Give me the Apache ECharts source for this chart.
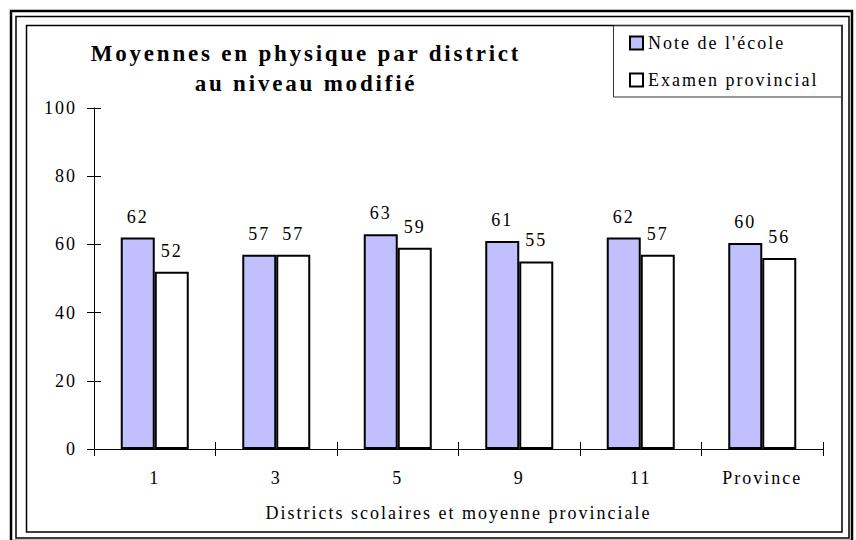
<!DOCTYPE html>
<html>
<head>
<meta charset="utf-8">
<script src="https://cdn.jsdelivr.net/npm/echarts@6.0.0/dist/echarts.min.js"></script>
<style>
    html, body { margin: 0; padding: 0; background: #fff; }
    #chart { width: 856px; height: 540px; }
    /* espacement des lettres comme dans l'original */
    #chart svg text { letter-spacing: 2px; }
    #chart svg text[style*="bold"] { letter-spacing: 2.8px; }
</style>
</head>
<body>
<div id="chart"></div>
<script>
// données
var districts = ['1', '3', '5', '9', '11', 'Province'];
var noteEcole = [62, 57, 63, 61, 62, 60.4];
var examenProvincial = [52, 57, 59, 55, 57, 56];
var yTicks = [0, 20, 40, 60, 80, 100];

var serif = '"Liberation Serif", "Times New Roman", serif';
var chartDom = document.getElementById('chart');
var myChart = echarts.init(chartDom, null, { renderer: 'svg' });

function roundLabel(p) {
    return Math.round(p.value);
}

var option = {
    animation: false,
    backgroundColor: '#fff',
    title: {
        text: 'Moyennes en physique par district\nau niveau modifié',
        left: 306,
        top: 38,
        padding: 0,
        textAlign: 'center',
        textStyle: {
            fontFamily: serif,
            fontSize: 23,
            fontWeight: 'bold',
            color: '#000',
            lineHeight: 30
        }
    },
    legend: {
        orient: 'vertical',
        left: 629,
        top: 34,
        padding: 0,
        itemWidth: 13,
        itemHeight: 13,
        itemGap: 19,
        icon: 'rect',
        itemStyle: { borderColor: '#000', borderWidth: 2 },
        textStyle: { fontFamily: serif, fontSize: 18, color: '#000' },
        data: ["Note de l'école", 'Examen provincial']
    },
    grid: {
        left: 94,
        right: 33,
        top: 108,
        bottom: 91
    },
    xAxis: {
        type: 'category',
        data: districts,
        z: 3,
        axisLine: { lineStyle: { color: '#000', width: 1 } },
        axisTick: { show: true, length: 7, lineStyle: { color: '#000' } },
        axisLabel: { fontFamily: serif, fontSize: 18, color: '#000', margin: 20 },
        // moitié intérieure des traits croisés : seuls les 7 derniers px du trait de grille
        splitLine: {
            show: true,
            lineStyle: { color: '#000', width: 1, type: [7, 600], dashOffset: 273 }
        },
        name: 'Districts scolaires et moyenne provinciale',
        nameLocation: 'middle',
        nameGap: 55,
        nameTextStyle: { fontFamily: serif, fontSize: 18, color: '#000' }
    },
    yAxis: {
        type: 'value',
        min: yTicks[0],
        max: yTicks[yTicks.length - 1],
        interval: yTicks[1] - yTicks[0],
        z: 3,
        axisLine: { show: true, lineStyle: { color: '#000', width: 1 } },
        axisTick: { show: true, length: 7, lineStyle: { color: '#000' } },
        axisLabel: { fontFamily: serif, fontSize: 18, color: '#000', margin: 17 },
        // moitié intérieure des traits croisés : seuls les 7 premiers px
        splitLine: {
            show: true,
            lineStyle: { color: '#000', width: 1, type: [7, 1000] }
        }
    },
    graphic: [
        { type: 'rect', silent: true, shape: { x: 11, y: 11, width: 841, height: 530 },
          style: { fill: 'none', stroke: '#000', lineWidth: 2.5 } },
        { type: 'rect', silent: true, shape: { x: 16, y: 16.5, width: 833, height: 521.5 },
          style: { fill: 'none', stroke: '#000', lineWidth: 1.5 } },
        { type: 'rect', silent: true, shape: { x: 26.5, y: 25.5, width: 815.5, height: 506.5 },
          style: { fill: 'none', stroke: '#000', lineWidth: 1.5 } },
        // boîte de la légende
        { type: 'rect', silent: true, shape: { x: 613.5, y: 25.5, width: 228.5, height: 71.5 },
          style: { fill: 'none', stroke: '#333', lineWidth: 1 } }
    ],
    series: [
        {
            name: "Note de l'école",
            type: 'bar',
            barWidth: 34,
            barGap: '0%',
            data: noteEcole,
            itemStyle: { color: '#c0c0ff', borderColor: '#000', borderWidth: 2 },
            label: {
                show: true, position: 'top', distance: 12,
                fontFamily: serif, fontSize: 18, color: '#000',
                formatter: roundLabel
            }
        },
        {
            name: 'Examen provincial',
            type: 'bar',
            barWidth: 34,
            barGap: '0%',
            data: examenProvincial,
            itemStyle: { color: '#fff', borderColor: '#000', borderWidth: 2 },
            label: {
                show: true, position: 'top', distance: 12,
                fontFamily: serif, fontSize: 18, color: '#000',
                formatter: roundLabel
            }
        }
    ]
};
myChart.setOption(option);
</script>
</body>
</html>
